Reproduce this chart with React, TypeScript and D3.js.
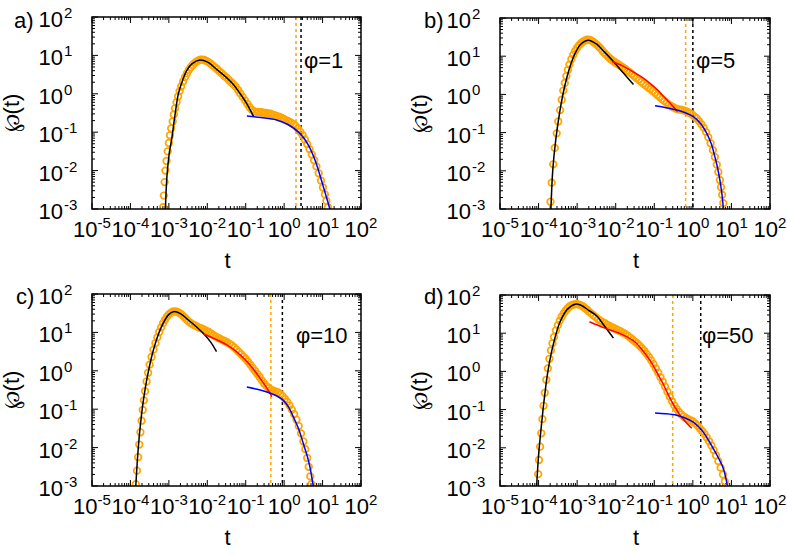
import React from 'react';
import * as d3 from 'd3';

type Pt = [number, number]; // [log10 t, log10 P]

const xDecades = [-5, -4, -3, -2, -1, 0, 1, 2];
const yDecades = [-3, -2, -1, 0, 1, 2];
const panelTags = ['a)', 'b)', 'c)', 'd)'];
const phiLabels = ['φ=1', 'φ=5', 'φ=10', 'φ=50'];
const orangeDashT = [2.04, 0.65, 0.45, 0.30];
const blackDashT = [2.75, 1.0, 0.9, 1.6];

const orangeA: Pt[] = [
  [-3.15,-2.95],[-3.13,-2.65],[-3.11,-2.30],[-3.09,-2.00],[-3.06,-1.75],[-3.03,-1.50],[-3.00,-1.28],[-2.97,-1.08],
  [-2.94,-0.90],[-2.90,-0.72],[-2.87,-0.54],[-2.84,-0.38],[-2.80,-0.22],[-2.76,-0.07],[-2.72,0.07],[-2.68,0.19],
  [-2.63,0.32],[-2.58,0.43],[-2.53,0.53],[-2.48,0.62],[-2.43,0.69],[-2.38,0.75],[-2.33,0.80],[-2.28,0.84],
  [-2.23,0.87],[-2.18,0.89],[-2.13,0.89],[-2.08,0.88],[-2.03,0.86],[-1.98,0.83],[-1.92,0.79],[-1.86,0.74],
  [-1.80,0.69],[-1.74,0.64],[-1.68,0.58],[-1.62,0.53],[-1.56,0.47],[-1.50,0.42],[-1.44,0.36],[-1.38,0.30],
  [-1.32,0.25],[-1.26,0.18],[-1.20,0.10],[-1.14,0.01],[-1.08,-0.08],[-1.02,-0.17],[-0.96,-0.26],[-0.90,-0.35],
  [-0.84,-0.42],[-0.78,-0.46],[-0.72,-0.47],[-0.66,-0.47],[-0.60,-0.48],[-0.54,-0.49],[-0.48,-0.50],[-0.42,-0.51],
  [-0.36,-0.52],[-0.30,-0.54],[-0.24,-0.56],[-0.18,-0.58],[-0.12,-0.60],[-0.06,-0.63],[0.00,-0.66],[0.06,-0.69],
  [0.12,-0.72],[0.18,-0.75],[0.24,-0.79],[0.30,-0.84],[0.36,-0.91],[0.42,-0.99],[0.48,-1.08],[0.54,-1.19],
  [0.60,-1.31],[0.66,-1.44],[0.72,-1.58],[0.78,-1.73],[0.84,-1.89],[0.90,-2.07],[0.96,-2.26],[1.01,-2.44],
  [1.06,-2.62],[1.10,-2.79],[1.14,-2.95]
];
const blackA: Pt[] = [
  [-3.09,-3.0],[-3.05,-2.15],[-2.99,-1.55],[-2.93,-1.2],[-2.84,-0.55],[-2.75,0.01],[-2.64,0.36],[-2.54,0.60],
  [-2.40,0.78],[-2.19,0.88],[-2.0,0.83],[-1.75,0.63],[-1.5,0.42],[-1.32,0.24],[-1.15,0.01],[-0.97,-0.26],[-0.80,-0.58]
];
const blueA: Pt[] = [
  [-0.97,-0.58],[-0.6,-0.62],[-0.2,-0.68],[0.1,-0.80],[0.41,-1.03],[0.62,-1.32],[0.8,-1.72],[1.02,-2.42],[1.19,-3.0]
];

const orangeB: Pt[] = [
  [-3.69,-2.81],[-3.66,-2.31],[-3.62,-1.83],[-3.58,-1.40],[-3.53,-1.02],[-3.49,-0.71],[-3.44,-0.41],[-3.40,-0.14],
  [-3.36,0.10],[-3.32,0.30],[-3.28,0.48],[-3.24,0.64],[-3.20,0.78],[-3.15,0.92],[-3.10,1.04],[-3.05,1.14],
  [-3.00,1.22],[-2.95,1.29],[-2.90,1.34],[-2.85,1.38],[-2.80,1.41],[-2.75,1.43],[-2.70,1.43],[-2.65,1.42],
  [-2.60,1.39],[-2.55,1.35],[-2.50,1.31],[-2.45,1.26],[-2.40,1.21],[-2.35,1.15],[-2.30,1.09],[-2.25,1.04],
  [-2.20,0.99],[-2.15,0.94],[-2.10,0.90],[-2.05,0.86],[-2.00,0.83],[-1.94,0.79],[-1.88,0.75],[-1.82,0.71],
  [-1.76,0.67],[-1.70,0.62],[-1.64,0.58],[-1.58,0.53],[-1.52,0.48],[-1.46,0.43],[-1.40,0.38],[-1.34,0.33],
  [-1.28,0.28],[-1.22,0.23],[-1.16,0.18],[-1.10,0.14],[-1.04,0.09],[-0.98,0.04],[-0.92,-0.02],[-0.86,-0.07],
  [-0.80,-0.12],[-0.74,-0.17],[-0.68,-0.22],[-0.62,-0.27],[-0.56,-0.31],[-0.50,-0.34],[-0.44,-0.37],[-0.38,-0.39],
  [-0.32,-0.40],[-0.26,-0.41],[-0.20,-0.43],[-0.14,-0.46],[-0.08,-0.49],[-0.02,-0.53],[0.04,-0.58],[0.10,-0.63],
  [0.16,-0.70],[0.22,-0.78],[0.28,-0.87],[0.34,-0.98],[0.40,-1.12],[0.46,-1.28],[0.52,-1.46],[0.57,-1.64],
  [0.62,-1.84],[0.66,-2.03],[0.70,-2.24],[0.73,-2.43],[0.76,-2.63],[0.79,-2.85]
];
const blackB: Pt[] = [
  [-3.68,-3.0],[-3.63,-1.95],[-3.55,-1.15],[-3.45,-0.45],[-3.33,0.18],[-3.2,0.68],[-3.05,1.08],[-2.9,1.32],
  [-2.71,1.42],[-2.5,1.32],[-2.3,1.12],[-2.06,0.86],[-1.8,0.56],[-1.54,0.26]
];
const redB: Pt[] = [
  [-2.09,0.86],[-1.85,0.76],[-1.63,0.64],[-1.35,0.47],[-1.11,0.29],[-0.9,0.10],[-0.77,-0.04],[-0.6,-0.22],[-0.4,-0.45]
];
const blueB: Pt[] = [
  [-0.98,-0.30],[-0.7,-0.35],[-0.42,-0.41],[-0.2,-0.48],[0.01,-0.58],[0.2,-0.76],[0.36,-1.02],[0.48,-1.30],
  [0.57,-1.63],[0.64,-1.92],[0.70,-2.24],[0.75,-2.58],[0.79,-2.98]
];

const orangeC: Pt[] = [
  [-3.86,-2.95],[-3.83,-2.60],[-3.80,-2.25],[-3.77,-1.92],[-3.74,-1.60],[-3.71,-1.30],[-3.68,-1.02],[-3.65,-0.77],
  [-3.62,-0.53],[-3.58,-0.28],[-3.54,-0.05],[-3.50,0.16],[-3.45,0.36],[-3.40,0.55],[-3.35,0.72],[-3.30,0.87],
  [-3.25,1.01],[-3.20,1.13],[-3.15,1.24],[-3.10,1.33],[-3.05,1.41],[-3.00,1.47],[-2.95,1.51],[-2.90,1.54],
  [-2.85,1.55],[-2.80,1.54],[-2.75,1.52],[-2.70,1.49],[-2.65,1.45],[-2.60,1.40],[-2.55,1.35],[-2.50,1.30],
  [-2.44,1.25],[-2.38,1.21],[-2.32,1.18],[-2.26,1.15],[-2.20,1.12],[-2.14,1.10],[-2.08,1.07],[-2.02,1.04],
  [-1.96,1.01],[-1.90,0.97],[-1.84,0.93],[-1.78,0.89],[-1.72,0.86],[-1.66,0.83],[-1.60,0.80],[-1.54,0.77],
  [-1.48,0.74],[-1.42,0.70],[-1.36,0.66],[-1.30,0.61],[-1.24,0.55],[-1.18,0.49],[-1.12,0.43],[-1.06,0.37],
  [-1.00,0.31],[-0.94,0.24],[-0.88,0.16],[-0.82,0.08],[-0.76,0.00],[-0.70,-0.08],[-0.64,-0.16],[-0.58,-0.25],
  [-0.52,-0.33],[-0.46,-0.40],[-0.40,-0.45],[-0.34,-0.49],[-0.28,-0.52],[-0.22,-0.54],[-0.16,-0.56],[-0.10,-0.60],
  [-0.04,-0.66],[0.02,-0.73],[0.08,-0.81],[0.14,-0.90],[0.20,-1.01],[0.26,-1.13],[0.32,-1.27],[0.38,-1.44],
  [0.44,-1.63],[0.50,-1.84],[0.55,-2.04],[0.60,-2.27],[0.64,-2.50],[0.68,-2.75],[0.71,-2.95]
];
const blackC: Pt[] = [
  [-3.86,-3.0],[-3.81,-2.2],[-3.75,-1.5],[-3.66,-0.75],[-3.55,-0.1],[-3.40,0.55],[-3.20,1.13],[-3.00,1.47],
  [-2.88,1.54],[-2.70,1.49],[-2.50,1.33],[-2.30,1.16],[-2.10,0.97],[-1.92,0.76],[-1.76,0.50]
];
const redC: Pt[] = [
  [-2.10,0.96],[-1.80,0.83],[-1.50,0.68],[-1.22,0.48],[-0.97,0.24],[-0.80,0.04],[-0.63,-0.19],[-0.47,-0.42],[-0.32,-0.67]
];
const blueC: Pt[] = [
  [-0.97,-0.42],[-0.70,-0.48],[-0.45,-0.55],[-0.20,-0.65],[-0.02,-0.77],[0.12,-0.95],[0.24,-1.20],[0.38,-1.52],
  [0.50,-1.90],[0.60,-2.22],[0.67,-2.50],[0.76,-3.02]
];

const orangeD: Pt[] = [
  [-4.01,-2.69],[-3.99,-2.32],[-3.96,-1.97],[-3.93,-1.62],[-3.90,-1.25],[-3.87,-0.90],[-3.84,-0.56],[-3.80,-0.22],
  [-3.76,0.08],[-3.72,0.33],[-3.68,0.55],[-3.64,0.74],[-3.60,0.90],[-3.55,1.07],[-3.50,1.21],[-3.45,1.33],
  [-3.40,1.43],[-3.35,1.52],[-3.30,1.59],[-3.25,1.65],[-3.20,1.70],[-3.15,1.73],[-3.10,1.75],[-3.05,1.76],
  [-3.00,1.76],[-2.95,1.75],[-2.90,1.73],[-2.85,1.70],[-2.80,1.66],[-2.75,1.62],[-2.70,1.57],[-2.64,1.52],
  [-2.58,1.47],[-2.52,1.42],[-2.46,1.37],[-2.40,1.33],[-2.34,1.29],[-2.28,1.26],[-2.22,1.22],[-2.16,1.19],
  [-2.10,1.16],[-2.04,1.13],[-1.98,1.10],[-1.92,1.07],[-1.86,1.04],[-1.80,1.01],[-1.74,0.97],[-1.68,0.93],
  [-1.62,0.88],[-1.56,0.83],[-1.50,0.78],[-1.44,0.73],[-1.38,0.67],[-1.32,0.61],[-1.26,0.54],[-1.20,0.46],
  [-1.14,0.38],[-1.08,0.29],[-1.02,0.19],[-0.96,0.08],[-0.90,-0.03],[-0.84,-0.15],[-0.78,-0.27],[-0.72,-0.40],
  [-0.66,-0.53],[-0.60,-0.66],[-0.54,-0.78],[-0.48,-0.89],[-0.42,-0.98],[-0.36,-1.06],[-0.30,-1.13],[-0.24,-1.18],
  [-0.18,-1.22],[-0.12,-1.25],[-0.06,-1.28],[0.00,-1.31],[0.06,-1.36],[0.12,-1.42],[0.18,-1.49],[0.24,-1.56],
  [0.30,-1.64],[0.36,-1.73],[0.42,-1.83],[0.48,-1.94],[0.54,-2.06],[0.60,-2.20],[0.66,-2.35],[0.72,-2.52],
  [0.78,-2.70],[0.83,-2.88]
];
const blackD: Pt[] = [
  [-4.05,-3.0],[-4.0,-2.2],[-3.93,-1.45],[-3.85,-0.70],[-3.75,0.05],[-3.62,0.70],[-3.45,1.28],[-3.25,1.63],
  [-3.05,1.76],[-2.90,1.73],[-2.70,1.60],[-2.49,1.45],[-2.30,1.20],[-2.06,0.87]
];
const redD: Pt[] = [
  [-2.68,1.30],[-2.3,1.14],[-1.80,0.95],[-1.50,0.77],[-1.28,0.52],[-1.10,0.27],[-0.94,-0.01],[-0.76,-0.35],
  [-0.59,-0.71],[-0.45,-0.96],[-0.33,-1.15],[-0.18,-1.33],[-0.03,-1.49]
];
const blueD: Pt[] = [
  [-0.98,-1.09],[-0.70,-1.11],[-0.42,-1.15],[-0.20,-1.22],[0.01,-1.33],[0.15,-1.45],[0.27,-1.59],[0.40,-1.79],
  [0.53,-2.02],[0.66,-2.26],[0.79,-2.54],[0.89,-2.97]
];

const orangeSets = [orangeA, orangeB, orangeC, orangeD];
const blackSets = [blackA, blackB, blackC, blackD];
const redSets: (Pt[] | null)[] = [null, redB, redC, redD];
const blueSets = [blueA, blueB, blueC, blueD];

const layouts = [
  { left: 92, right: 361, top: 17, bottom: 209, tag: [14, 28], phi: [304, 68] },
  { left: 500, right: 770, top: 18, bottom: 209, tag: [424, 28], phi: [696, 68] },
  { left: 92, right: 361, top: 294, bottom: 486, tag: [16, 304], phi: [296, 343] },
  { left: 500, right: 770, top: 295, bottom: 486, tag: [424, 304], phi: [702, 343] },
];

const ORANGE = '#ffa500';
const FONT = "'Liberation Sans', Arial, Helvetica, sans-serif";
const FS = 22;
const SUP = 15;

function minorLogs(decades: number[]) {
  const out: number[] = [];
  for (let i = 0; i < decades.length - 1; i++) {
    for (let k = 2; k <= 9; k++) out.push(decades[i] + Math.log10(k));
  }
  return out;
}

function Panel({ i }: { i: number }) {
  const L = layouts[i];
  const x = d3.scaleLog().domain([1e-5, 1e2]).range([L.left, L.right]);
  const y = d3.scaleLog().domain([1e-3, 1e2]).range([L.bottom, L.top]);
  const px = (lt: number) => x(Math.pow(10, lt));
  const py = (lp: number) => y(Math.pow(10, lp));
  const line = d3.line<Pt>().x(d => px(d[0])).y(d => py(d[1])).curve(d3.curveCatmullRom.alpha(0.5));
  const clipId = `clip${i}`;
  const MAJ = 6, MIN = 3;
  const xMinor = minorLogs(xDecades);
  const yMinor = minorLogs(yDecades);
  const red = redSets[i];
  const cx = (L.left + L.right) / 2;
  const cy = (L.top + L.bottom) / 2;
  return (
    <g>
      <defs>
        <clipPath id={clipId}>
          <rect x={L.left} y={L.top} width={L.right - L.left} height={L.bottom - L.top} />
        </clipPath>
      </defs>
      <g stroke="#000" strokeWidth={1}>
        {xDecades.map(d => (
          <g key={'xM' + d}>
            <line x1={px(d)} x2={px(d)} y1={L.bottom} y2={L.bottom - MAJ} />
            <line x1={px(d)} x2={px(d)} y1={L.top} y2={L.top + MAJ} />
          </g>
        ))}
        {xMinor.map(d => (
          <g key={'xm' + d}>
            <line x1={px(d)} x2={px(d)} y1={L.bottom} y2={L.bottom - MIN} />
            <line x1={px(d)} x2={px(d)} y1={L.top} y2={L.top + MIN} />
          </g>
        ))}
        {yDecades.map(d => (
          <g key={'yM' + d}>
            <line x1={L.left} x2={L.left + MAJ} y1={py(d)} y2={py(d)} />
            <line x1={L.right} x2={L.right - MAJ} y1={py(d)} y2={py(d)} />
          </g>
        ))}
        {yMinor.map(d => (
          <g key={'ym' + d}>
            <line x1={L.left} x2={L.left + MIN} y1={py(d)} y2={py(d)} />
            <line x1={L.right} x2={L.right - MIN} y1={py(d)} y2={py(d)} />
          </g>
        ))}
      </g>
      <g clipPath={`url(#${clipId})`}>
        <line x1={x(orangeDashT[i])} x2={x(orangeDashT[i])} y1={L.top} y2={L.bottom}
          stroke={ORANGE} strokeWidth={1.5} strokeDasharray="3,3" />
        <line x1={x(blackDashT[i])} x2={x(blackDashT[i])} y1={L.top} y2={L.bottom}
          stroke="#000" strokeWidth={1.5} strokeDasharray="3,3" />
        {orangeSets[i].map((d, j) => (
          <circle key={j} cx={px(d[0])} cy={py(d[1])} r={3.3} fill="none" stroke={ORANGE} strokeWidth={1.7} />
        ))}
        <path d={line(blackSets[i]) || ''} fill="none" stroke="#000" strokeWidth={1.5} />
        {red && <path d={line(red) || ''} fill="none" stroke="#ff0000" strokeWidth={1.5} />}
        <path d={line(blueSets[i]) || ''} fill="none" stroke="#0000ff" strokeWidth={1.5} />
      </g>
      <rect x={L.left} y={L.top} width={L.right - L.left} height={L.bottom - L.top}
        fill="none" stroke="#000" strokeWidth={1.5} />
      <g fontFamily={FONT} fill="#000">
        {xDecades.map(d => (
          <text key={'xl' + d} x={px(d)} y={L.bottom + 28} textAnchor="middle" fontSize={FS}>
            <tspan>10</tspan>
            <tspan dy={-9} fontSize={SUP}>{String(d)}</tspan>
          </text>
        ))}
        {yDecades.map(d => (
          <g key={'yl' + d}>
            <text x={L.left - 29} y={py(d) + 10} textAnchor="end" fontSize={FS}>10</text>
            <text x={L.left - 28} y={py(d) + 1} textAnchor="start" fontSize={SUP}>{String(d)}</text>
          </g>
        ))}
        <text x={cx + 1} y={L.bottom + 59} textAnchor="middle" fontSize={FS}>t</text>
        <text transform={`translate(${L.left - 73},${cy}) rotate(-90)`} textAnchor="middle" fontSize={FS}>℘(t)</text>
        <text x={L.tag[0]} y={L.tag[1]} fontSize={FS}>{panelTags[i]}</text>
        <text x={L.phi[0]} y={L.phi[1]} fontSize={FS}>{phiLabels[i]}</text>
      </g>
    </g>
  );
}

export default function App() {
  return (
    <svg width={787} height={556} style={{ position: 'absolute', left: 0, top: 0, background: '#fff' }}>
      {layouts.map((_, i) => <Panel key={i} i={i} />)}
    </svg>
  );
}
